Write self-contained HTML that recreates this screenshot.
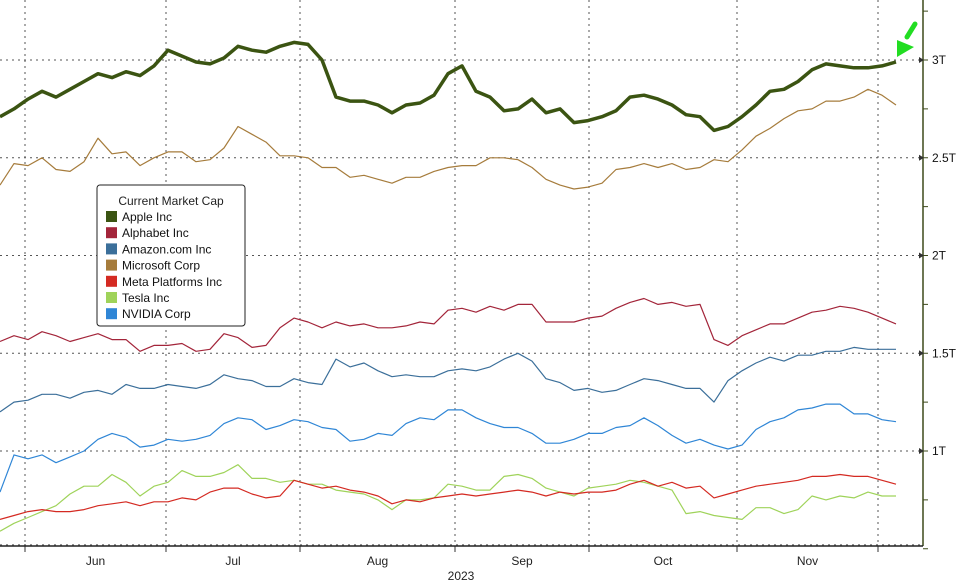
<!DOCTYPE html>
<html><head><meta charset="utf-8"><style>
html,body{margin:0;padding:0;background:#fff;}
svg{display:block;font-family:"Liberation Sans",sans-serif;}
</style></head><body>
<svg id="chart" width="967" height="583" viewBox="0 0 967 583">
<g id="grid"></g>
<g id="axes"></g>
<g id="series"></g>
<g>
<line x1="915" y1="24" x2="907" y2="37" stroke="#22dd22" stroke-width="5" stroke-linecap="round"/>
<polygon points="897,40 914,47 897,57" fill="#22dd22"/>
</g>
<g>
<rect x="97" y="185" width="148" height="141" rx="3" fill="#fff" stroke="#222" stroke-width="1"/>
<text x="171" y="205" font-size="12" text-anchor="middle" fill="#222">Current Market Cap</text>
<g id="legend-items"></g>
</g>
</svg>
<script>
const months = ["Jun","Jul","Aug","Sep","Oct","Nov"];
const yTicks = [1, 1.5, 2, 2.5, 3];
const yTickLabels = ["1T","1.5T","2T","2.5T","3T"];
const seriesNames = ["Apple Inc","Alphabet Inc","Amazon.com Inc","Microsoft Corp","Meta Platforms Inc","Tesla Inc","NVIDIA Corp"];
const apple = [2.71,2.75,2.80,2.84,2.81,2.85,2.89,2.93,2.91,2.94,2.92,2.97,3.05,3.02,2.99,2.98,3.01,3.07,3.05,3.04,3.07,3.09,3.08,3.00,2.81,2.79,2.79,2.77,2.73,2.77,2.78,2.82,2.93,2.97,2.84,2.81,2.74,2.75,2.80,2.73,2.75,2.68,2.69,2.71,2.74,2.81,2.82,2.80,2.77,2.72,2.71,2.64,2.66,2.71,2.77,2.84,2.85,2.89,2.95,2.98,2.97,2.96,2.96,2.97,2.99];
const alphabet = [1.56,1.59,1.57,1.61,1.59,1.56,1.58,1.60,1.57,1.57,1.51,1.54,1.54,1.55,1.51,1.52,1.60,1.58,1.53,1.54,1.63,1.68,1.66,1.63,1.66,1.64,1.65,1.63,1.63,1.64,1.66,1.65,1.72,1.73,1.71,1.74,1.72,1.75,1.75,1.66,1.66,1.66,1.68,1.69,1.73,1.76,1.78,1.75,1.76,1.74,1.75,1.57,1.54,1.59,1.62,1.65,1.65,1.68,1.71,1.72,1.74,1.73,1.71,1.68,1.65];
const amazon = [1.20,1.25,1.26,1.29,1.29,1.27,1.30,1.31,1.29,1.34,1.32,1.32,1.34,1.33,1.32,1.34,1.39,1.37,1.36,1.33,1.33,1.37,1.35,1.34,1.47,1.43,1.45,1.41,1.38,1.39,1.38,1.38,1.41,1.42,1.41,1.43,1.47,1.50,1.46,1.37,1.35,1.31,1.32,1.30,1.31,1.34,1.37,1.36,1.34,1.32,1.32,1.25,1.36,1.41,1.45,1.48,1.46,1.49,1.49,1.51,1.51,1.53,1.52,1.52,1.52];
const microsoft = [2.36,2.47,2.46,2.50,2.44,2.43,2.48,2.60,2.52,2.53,2.46,2.50,2.53,2.53,2.48,2.49,2.55,2.66,2.62,2.58,2.51,2.51,2.50,2.45,2.45,2.40,2.41,2.39,2.37,2.40,2.40,2.43,2.45,2.46,2.46,2.50,2.50,2.49,2.45,2.39,2.36,2.34,2.35,2.37,2.44,2.45,2.47,2.45,2.47,2.44,2.45,2.49,2.48,2.54,2.61,2.65,2.70,2.74,2.75,2.79,2.79,2.81,2.85,2.82,2.77];
const meta = [0.65,0.67,0.69,0.70,0.69,0.69,0.70,0.72,0.73,0.74,0.72,0.74,0.74,0.76,0.75,0.79,0.81,0.81,0.78,0.76,0.77,0.85,0.83,0.81,0.82,0.80,0.79,0.77,0.73,0.75,0.74,0.76,0.77,0.78,0.77,0.78,0.79,0.80,0.79,0.77,0.79,0.78,0.79,0.79,0.80,0.83,0.85,0.82,0.84,0.81,0.82,0.76,0.78,0.80,0.82,0.83,0.84,0.85,0.87,0.87,0.88,0.87,0.87,0.85,0.83];
const tesla = [0.59,0.63,0.66,0.69,0.72,0.78,0.82,0.82,0.88,0.84,0.77,0.82,0.84,0.90,0.87,0.87,0.89,0.93,0.86,0.86,0.84,0.85,0.83,0.83,0.80,0.79,0.78,0.75,0.70,0.75,0.75,0.76,0.83,0.82,0.80,0.80,0.87,0.88,0.86,0.81,0.79,0.77,0.81,0.82,0.83,0.85,0.84,0.82,0.80,0.68,0.69,0.67,0.66,0.65,0.71,0.71,0.68,0.70,0.77,0.75,0.77,0.76,0.79,0.77,0.77];
const nvidia = [0.79,0.98,0.96,0.98,0.94,0.97,1.00,1.06,1.09,1.07,1.02,1.03,1.06,1.05,1.06,1.08,1.14,1.17,1.16,1.11,1.13,1.16,1.15,1.12,1.11,1.05,1.06,1.09,1.08,1.14,1.17,1.16,1.21,1.21,1.17,1.14,1.12,1.12,1.09,1.04,1.04,1.06,1.09,1.09,1.12,1.13,1.17,1.13,1.08,1.04,1.06,1.03,1.01,1.03,1.11,1.15,1.17,1.21,1.22,1.24,1.24,1.19,1.19,1.16,1.15];

const NS="http://www.w3.org/2000/svg";
const AX_R=923, AX_B=546, X_END=896;
function yScale(v){return 60+(3-v)*195.5;}
function xScale(i,n){return i*X_END/(n-1);}
function mk(tag,attrs,parent){const e=document.createElementNS(NS,tag);for(const k in attrs)e.setAttribute(k,attrs[k]);parent.appendChild(e);return e;}
const grid=document.getElementById('grid'), axes=document.getElementById('axes'), sg=document.getElementById('series');
const monthBounds=[25,166,300,455,589,737,878];
monthBounds.forEach(x=>{
  const l=mk('line',{x1:x,y1:0,x2:x,y2:AX_B,stroke:'#555','stroke-width':1,'stroke-dasharray':'2,4'},grid);
  
  
  mk('line',{x1:x,y1:AX_B,x2:x,y2:AX_B+6,stroke:'#333'},axes);
});
[...yTicks,0.52].forEach(v=>{
  const y=yScale(v);
  const l=mk('line',{x1:0,y1:y,x2:AX_R,y2:y,stroke:'#555','stroke-width':1,'stroke-dasharray':'2,4'},grid);
  
  
});
mk('line',{x1:AX_R,y1:0,x2:AX_R,y2:AX_B,stroke:'#3d4a1a','stroke-width':1.5},axes);
mk('line',{x1:0,y1:AX_B,x2:AX_R,y2:AX_B,stroke:'#222','stroke-width':1.5},axes);
for(let v=0.5;v<=3.25;v+=0.25){const y=yScale(v);if(y<0)continue;mk('line',{x1:AX_R,y1:y,x2:AX_R+5,y2:y,stroke:'#3d4a1a'},axes);}
yTicks.forEach((v,i)=>{
  const y=yScale(v);
  mk('polygon',{points:`${AX_R-4},${y-3} ${AX_R+1},${y} ${AX_R-4},${y+3}`,fill:'#333'},axes);
  const t=mk('text',{x:AX_R+9,y:y+4,'font-size':12,fill:'#111'},axes);
  t.textContent=yTickLabels[i];
  
  
});
months.forEach((m,i)=>{
  const t=mk('text',{x:(monthBounds[i]+monthBounds[i+1])/2,y:565,'font-size':12,'text-anchor':'middle',fill:'#222'},axes);
  t.textContent=m;
  
  
});
const yr=mk('text',{x:461,y:580,'font-size':12,'text-anchor':'middle',fill:'#222'},axes);
yr.textContent='2023';



const data=[apple,alphabet,amazon,microsoft,meta,tesla,nvidia];
const colors=['#3b5412','#a3253a','#3b6f9a','#a67c3c','#d42a22','#9fd35a','#2f86d6'];
const widths=[3.5,1.2,1.2,1.2,1.2,1.2,1.2];
const order=[5,4,6,2,1,3,0];
order.forEach(k=>{
  const arr=data[k];
  const pts=arr.map((v,i)=>xScale(i,arr.length).toFixed(1)+','+yScale(v).toFixed(1)).join(' ');
  const p=mk('polyline',{points:pts,fill:'none',stroke:colors[k],'stroke-width':widths[k],'stroke-linejoin':'round'},sg);
  
  
});
const li=document.getElementById('legend-items');
seriesNames.forEach((n,i)=>{
  const g=mk('g',{},li);
  
  
  const y=211+i*16.2;
  mk('rect',{x:106,y:y,width:11,height:11,fill:colors[i]},g);
  const t=mk('text',{x:122,y:y+10,'font-size':12,fill:'#111'},g);
  t.textContent=n;
});
</script>
</body></html>
